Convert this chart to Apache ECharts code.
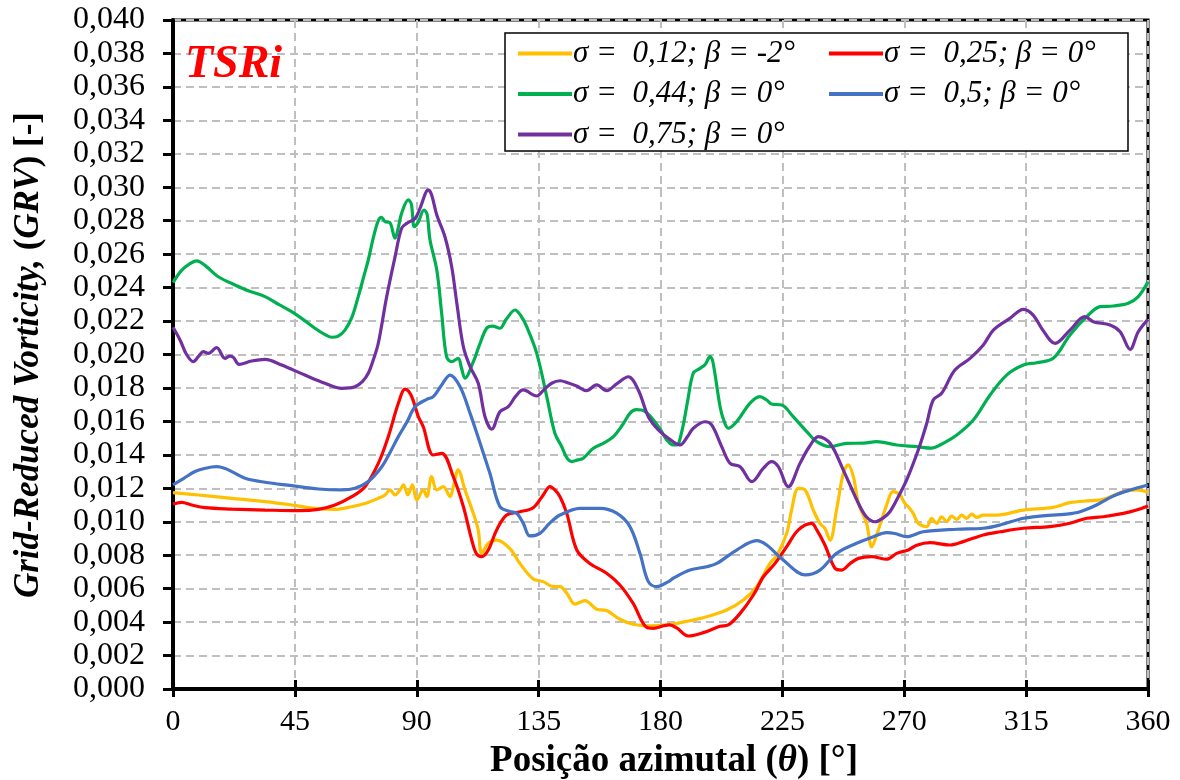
<!DOCTYPE html>
<html>
<head>
<meta charset="utf-8">
<script src="https://cdn.jsdelivr.net/npm/echarts@6/dist/echarts.min.js"></script>
<style>
html,body{margin:0;padding:0;background:#fff;}
#chart{width:1180px;height:780px;}
</style>
</head>
<body>
<div id="chart"></div>
<script>
// ---- Data ----
const xTicks = [0, 45, 90, 135, 180, 225, 270, 315, 360];

const nameY = 'σ =  0,12; β = -2°';
const nameR = 'σ =  0,25; β = 0°';
const nameG = 'σ =  0,44; β = 0°';
const nameB = 'σ =  0,5; β = 0°';
const nameP = 'σ =  0,75; β = 0°';

const angY = [0,9.4,21.7,34,43.8,52.4,59.8,66,70.9,75.8,78.3,80.1,82,83.8,85.1,86.7,88.4,90,92.4,93.7,95.5,97.4,99.8,102.3,103.5,105.3,107.8,110.9,112.7,114,116.4,119.5,124.4,128.1,133,136.7,140.4,142.9,145.4,148.4,152.1,156.4,160.1,165,169.9,176.1,182.3,188.4,197,204.4,210.6,215.5,220.4,223,226.6,228.4,230.9,233.4,236.4,238.9,240.7,242.6,245,247.5,249.3,251.2,253.1,256.1,258,259.8,263.5,265.9,268.4,270.2,271.5,273.3,275.2,278.3,280.1,282,283.8,285.7,287.5,289.4,291.2,293,294.9,296.8,299.2,304.2,314,325,331.2,338.6,343.5,350.9,355.8,360];
const valY = [0.01174,0.0116,0.0114,0.0112,0.011,0.0108,0.01074,0.0109,0.01109,0.0114,0.0116,0.0119,0.0116,0.0119,0.0122,0.0116,0.0122,0.0113,0.0119,0.0115,0.0127,0.0119,0.0121,0.0115,0.0121,0.0131,0.0119,0.01049,0.0095,0.0081,0.0087,0.0089,0.0084,0.0075,0.00658,0.00642,0.00612,0.00612,0.00572,0.00508,0.00528,0.00477,0.00469,0.00417,0.00387,0.00377,0.00383,0.004,0.00432,0.00472,0.00532,0.00612,0.00751,0.008,0.00931,0.0107,0.012,0.0119,0.0107,0.0099,0.0096,0.0089,0.0107,0.0129,0.0134,0.0127,0.0111,0.0099,0.0085,0.0092,0.011,0.0118,0.0116,0.0111,0.0109,0.0105,0.0099,0.0097,0.0102,0.0099,0.0103,0.01,0.01034,0.01014,0.0104,0.0102,0.01046,0.01026,0.0104,0.0104,0.0107,0.01086,0.01114,0.01126,0.01134,0.0118,0.0119,0.01176];

const angR = [0,3.2,6.9,11.8,21.7,34,46.3,53.7,59.8,66,70.9,75.8,79.5,83.2,85.7,87,88.4,90.6,92.4,96.1,99.2,103.5,107.2,110.3,112,114,116.4,119.5,123.2,128.1,133,136.7,139.2,141,142.9,145.4,149.1,153.9,160.1,165,169.9,174.9,177.4,181.1,183.2,186,190.2,195.8,202,205,209.4,214.3,218,222.3,226.6,230.9,235.8,237.7,240.7,244.4,246.9,250,253.1,258,263.5,267.2,271.5,274.6,279.5,286.9,291.8,299.2,305.4,314,323.8,331.2,337.4,343.5,350.9,355.8,360];
const valR = [0.01106,0.01116,0.011,0.01084,0.01076,0.0107,0.01066,0.01074,0.011,0.0115,0.0121,0.01349,0.01509,0.01708,0.01793,0.0178,0.01738,0.01628,0.01568,0.01399,0.01409,0.01269,0.01091,0.00891,0.0081,0.00791,0.00831,0.00951,0.0104,0.0106,0.01084,0.0116,0.0121,0.0119,0.0115,0.0105,0.00831,0.00751,0.00692,0.00622,0.00512,0.00368,0.00363,0.00378,0.00383,0.00365,0.00317,0.00337,0.00375,0.00383,0.00452,0.00562,0.00671,0.00751,0.00851,0.00951,0.0099,0.00951,0.00861,0.00722,0.00711,0.0075,0.00781,0.00791,0.00776,0.00811,0.00831,0.0086,0.00875,0.00861,0.00881,0.00921,0.0094,0.00961,0.00971,0.00991,0.01021,0.0103,0.0105,0.0107,0.01094];

const angG = [0,3,6,8.7,12,16.7,22.9,28,34,39,43.8,48,52.4,56,58.6,61,63.5,66,68.4,70.5,72.1,74,75.8,77,78.3,80,82,83.2,84.4,86.9,88,89.1,90.5,92.7,93.8,94.9,97.4,99.2,101,102.9,105.3,106.5,107.8,110.9,113,115.8,118,120.7,123,126.3,128.5,130.6,134.3,138,141,143.5,145.5,147.2,149.5,151.5,155.2,159,162.6,166,168.7,171,173,175,177.4,180,182.3,184.7,186,188,190,192.1,194.6,196.5,198.3,199.3,202,203.5,205,208.1,213,216.7,219.2,221,224.8,229,234,237.7,242.6,248.8,255,259.8,267.2,274.6,280,283.2,289.4,295.5,301.7,307.8,314,318.9,325,331.2,337.4,342.3,347.2,352.7,356.4,360];
const valG = [0.0243,0.025,0.0254,0.0256,0.0253,0.02465,0.02416,0.0238,0.02346,0.023,0.02256,0.0221,0.02157,0.0212,0.02103,0.0211,0.02146,0.0222,0.02346,0.0247,0.02565,0.027,0.028,0.0282,0.02794,0.0279,0.02695,0.0276,0.02844,0.02924,0.029,0.02764,0.0279,0.02864,0.0284,0.02685,0.02505,0.02246,0.01987,0.01957,0.01977,0.0192,0.01858,0.01957,0.0205,0.02157,0.0217,0.02157,0.0221,0.02266,0.0223,0.02166,0.02007,0.01748,0.01529,0.0145,0.0138,0.0136,0.0137,0.0138,0.01439,0.0147,0.01509,0.0158,0.01648,0.0167,0.01668,0.0165,0.01608,0.0155,0.01489,0.01459,0.01459,0.0155,0.0172,0.01888,0.01917,0.0194,0.01987,0.0196,0.01688,0.016,0.01559,0.01598,0.01708,0.01748,0.01728,0.01704,0.01698,0.01628,0.01539,0.01479,0.01449,0.01469,0.0147,0.01479,0.01459,0.01449,0.0144,0.01459,0.01519,0.01608,0.01758,0.01877,0.01937,0.01951,0.01977,0.02117,0.02226,0.02286,0.0229,0.02306,0.02346,0.02435];

const angB = [0,4,8.1,12,16.1,19,21.7,26.6,34,43.8,53.7,62.3,67.2,72.1,77.1,80,83.2,86.5,89.4,93.7,96.1,99.2,102.3,106,109.7,113.4,117,120.7,124.4,126.9,129.3,131.8,135.5,139,142.9,150.3,157.7,163.8,168.7,172.4,175.5,178.6,182.9,184.7,190.9,197,200.8,208.1,215.5,219.2,225.3,233.4,238.9,245,252.4,258.6,263.5,266.5,270.9,277,289.4,299.2,305.4,314,320.1,330,334.9,341,347.2,353.4,360];
const valB = [0.0122,0.0126,0.013,0.0132,0.01329,0.0132,0.013,0.0126,0.01236,0.01216,0.01196,0.0119,0.012,0.0124,0.01329,0.0141,0.01509,0.016,0.01688,0.01732,0.01748,0.01818,0.01877,0.01807,0.01648,0.01469,0.0129,0.01091,0.01061,0.01051,0.00992,0.00915,0.00931,0.0099,0.0104,0.0108,0.0108,0.01051,0.00971,0.00811,0.00642,0.00612,0.00642,0.00662,0.00711,0.00731,0.00751,0.00831,0.00887,0.00861,0.00771,0.00682,0.00711,0.00811,0.00871,0.00911,0.00935,0.0093,0.00911,0.0094,0.00955,0.00961,0.00981,0.01021,0.01034,0.01046,0.0106,0.011,0.01154,0.0119,0.0122];

const angP = [0,2.6,5,7.5,9.5,11.2,13,16.1,19.2,21,22.3,24.4,29,34,40.1,48.7,56.1,62.3,65,67.2,70,72.1,74,75.8,78.9,82,84.4,86.3,89.4,91.2,94.3,95.5,97.4,100.4,102.9,104.8,107.2,109.7,112.7,115.2,117.7,120.7,123.8,126.5,129.3,134.3,137,139.8,142.9,146,149,152.7,156.4,160.1,163.8,168.1,171.8,175.5,179.2,182.9,187.2,190,192.1,196.4,198.9,202.6,205.7,209.4,213.7,218,221,223.5,227.2,231.5,235,238.3,242.6,247.5,253.1,256,259.2,262,264.7,267.8,270.9,275.2,278.3,280.7,283.8,288.7,294.3,299.2,302.9,309,314,317.6,321,325.7,331.2,336.7,339.8,346,349.7,353.4,356.4,360];
const valP = [0.02163,0.02087,0.02,0.01957,0.0199,0.02017,0.02007,0.02041,0.01977,0.0199,0.01983,0.01941,0.01961,0.01971,0.01937,0.01877,0.01828,0.01798,0.018,0.01807,0.0184,0.01888,0.0197,0.02067,0.02346,0.02585,0.02755,0.02784,0.02814,0.02874,0.02984,0.02954,0.02834,0.02704,0.02525,0.02306,0.02047,0.01927,0.01828,0.01628,0.01553,0.01658,0.01688,0.0175,0.01788,0.01752,0.0179,0.01828,0.01843,0.0183,0.01812,0.01784,0.01818,0.01784,0.01824,0.01867,0.01788,0.01628,0.01549,0.01499,0.01459,0.0151,0.01559,0.01598,0.01579,0.01449,0.01349,0.01329,0.0124,0.0132,0.01359,0.01329,0.0121,0.01349,0.0145,0.01509,0.01469,0.01309,0.01109,0.0103,0.01,0.0102,0.0106,0.0115,0.0125,0.0143,0.01588,0.01728,0.01768,0.01907,0.01977,0.02057,0.02146,0.02216,0.0227,0.02236,0.0215,0.02067,0.02146,0.02226,0.02196,0.02176,0.02136,0.02031,0.02136,0.0221];

// ---- Chart ----
const SERIF = '"Liberation Serif", "Times New Roman", serif';
const zip = (a, v) => a.map((x, i) => [x, v[i]]);

function lineSeries(name, color, ang, val) {
  return {
    name: name, type: 'line', xAxisIndex: 0, yAxisIndex: 0,
    data: zip(ang, val), smooth: 0.35, showSymbol: false, symbol: 'none',
    lineStyle: { color: color, width: 3.2 }, itemStyle: { color: color },
    emphasis: { disabled: true }, z: 2
  };
}

const chart = echarts.init(document.getElementById('chart'), null, { renderer: 'canvas' });
const gridDash = { color: '#BFBFBF', width: 2, type: [8, 5] };
const legendText = { fontFamily: SERIF, fontStyle: 'italic', fontSize: 31, color: '#000', lineHeight: 30, padding: [0, 0, 0, -4] };

chart.setOption({
  animation: false,
  backgroundColor: '#fff',
  grid: { left: 173, right: 32, top: 20, bottom: 91, show: true, borderColor: '#000', borderWidth: 3, backgroundColor: 'transparent' },
  xAxis: [{
    type: 'value', min: 0, max: 360, interval: 45, position: 'bottom',
    axisLine: { show: true, onZero: false, lineStyle: { color: '#000', width: 4 } },
    axisTick: { show: true, inside: false, length: 8, lineStyle: { color: '#000', width: 3 } },
    axisLabel: { color: '#000', fontFamily: SERIF, fontSize: 30, margin: 18,
      formatter: v => (xTicks.indexOf(v) >= 0 ? String(v) : '') },
    splitLine: { show: true, lineStyle: gridDash }
  }, {
    type: 'value', min: 0, max: 360, interval: 45, position: 'bottom',
    axisLine: { show: false },
    axisTick: { show: true, inside: true, length: 9, lineStyle: { color: '#000', width: 3 } },
    axisLabel: { show: false }, splitLine: { show: false }
  }],
  yAxis: {
    type: 'value', min: 0, max: 0.04, interval: 0.002,
    axisLine: { show: true, onZero: false, lineStyle: { color: '#000', width: 4 } },
    axisTick: { show: true, inside: false, length: 10, lineStyle: { color: '#000', width: 3 } },
    axisLabel: { color: '#000', fontFamily: SERIF, fontSize: 32, margin: 28,
      formatter: v => v.toFixed(3).replace('.', ',') },
    splitLine: { show: true, lineStyle: gridDash }
  },
  legend: [{
    data: [nameY, nameG, nameP], orient: 'vertical', left: 518, top: 38, padding: 0,
    itemGap: 9.5, itemWidth: 54, itemHeight: 4, icon: 'rect', selectedMode: false, z: 10,
    textStyle: legendText
  }, {
    data: [nameR, nameB], orient: 'vertical', left: 829, top: 38, padding: 0,
    itemGap: 9.5, itemWidth: 54, itemHeight: 4, icon: 'rect', selectedMode: false, z: 10,
    textStyle: legendText
  }],
  graphic: [
    { type: 'rect', z: 5, shape: { x: 505, y: 33, width: 623, height: 118 },
      style: { fill: '#fff', stroke: '#000', lineWidth: 1.5 } },
    { type: 'text', z: 6, x: 185, y: 65,
      style: { text: 'TSRi', fill: '#FF0000', font: 'italic bold 46px "Liberation Serif", serif', align: 'left', verticalAlign: 'middle' } },
    { type: 'text', z: 6, x: 674, y: 761,
      style: {
        text: '{b|Posição azimutal (}{i|θ}{b|) [°]}', align: 'center', verticalAlign: 'middle',
        rich: {
          b: { font: 'bold 37px "Liberation Serif", serif', fill: '#000' },
          i: { font: 'italic bold 37px "Liberation Serif", serif', fill: '#000' }
        }
      } },
    { type: 'text', z: 6, x: 29, y: 355, rotation: Math.PI / 2,
      style: {
        text: '{i|Grid-Reduced Vorticity, }{b|(}{i|GRV}{b|) [-]}', align: 'center', verticalAlign: 'middle',
        rich: {
          b: { font: 'bold 35px "Liberation Serif", serif', fill: '#000' },
          i: { font: 'italic bold 35px "Liberation Serif", serif', fill: '#000' }
        }
      } }
  ],
  series: [
    lineSeries(nameY, '#FFC000', angY, valY),
    lineSeries(nameR, '#FF0000', angR, valR),
    lineSeries(nameG, '#00B050', angG, valG),
    lineSeries(nameB, '#4472C4', angB, valB),
    lineSeries(nameP, '#7030A0', angP, valP)
  ]
});
</script>
</body>
</html>
